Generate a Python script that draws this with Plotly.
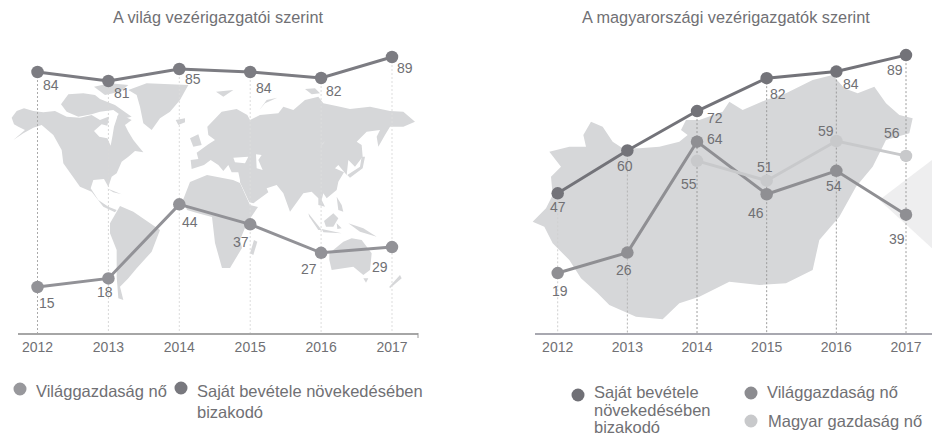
import plotly.graph_objects as go

W, H = 932, 436
FONT = "Liberation Sans"
TEXT = "#707074"

years = [2012, 2013, 2014, 2015, 2016, 2017]
light_years = [2014, 2015, 2016, 2017]

world_own_revenue = [84, 81, 85, 84, 82, 89]
world_economy = [15, 18, 44, 37, 27, 29]
hu_own_revenue = [47, 60, 72, 82, 84, 89]
hu_world_economy = [19, 26, 64, 46, 54, 39]
hu_economy = [55, 51, 59, 56]

title_world = "A világ vezérigazgatói szerint"
title_hu = "A magyarországi vezérigazgatók szerint"

# label offsets from their marker (px, right / down)
off_world_own = [(13, 13), (14, 12), (14, 10), (14, 16), (13, 13), (13, 11)]
off_world_eco = [(9, 16), (-3, 14), (11, 18), (-9, 18), (-12, 16), (-12, 20)]
off_hu_own = [(0, 14), (-2, 15), (18, 7), (11, 16), (15, 12), (-11, 15)]
off_hu_world = [(2, 18), (-3, 17), (18, -3), (-11, 19), (-2, 15), (-9, 24)]
off_hu_eco = [(-8, 23), (-2, -14), (-10, -10), (-14, -23)]

# Decorative background maps, traced as (x, y) in the 932x436 frame
def c1(pts):
    return [(x / 3, 75 + y / 3) for x, y in pts]

def c2(pts):
    return [(190 + x / 3, 85 + y / 3) for x, y in pts]

def c3(pts):
    return [(100 + x / 3, 190 + y / 3) for x, y in pts]

def z2(pts):
    return [(466 + x / 3, 40 + y / 3) for x, y in pts]

world_land = [
    c1([(35,128),(50,108),(72,100),(100,108),(130,112),(165,108),(200,125),(240,128),(275,120),(300,135),(325,125),(345,135),(360,110),(375,125),(395,135),(375,150),(385,170),(400,195),(412,210),(430,232),(405,228),(385,245),(365,260),(350,295),(335,305),(325,335),(312,312),(280,315),(272,340),(295,375),(325,395),(350,405),(345,412),(310,395),(275,350),(240,335),(215,300),(190,265),(185,225),(160,180),(125,150),(100,158),(70,175),(40,195),(75,165),(55,155),(42,148)]),
    c1([(183,88),(205,58),(250,55),(285,60),(300,72),(345,90),(395,125),(375,130),(340,105),(300,110),(275,118),(235,125),(200,110)]),
    c1([(282,35),(330,25),(385,30),(360,50),(315,60)]),
    c1([(385,45),(440,25),(565,30),(540,75),(510,110),(480,130),(455,165),(430,145),(420,95),(410,60)]),
    c1([(527,135),(555,130),(555,142),(535,150)]),
    c1([(320,340),(365,358),(340,352)]),
    c2([(2,225),(25,222),(20,203),(55,178),(75,165),(55,150),(52,125),(95,80),(140,72),(172,90),(180,105),(210,90),(265,85),(280,65),(310,75),(345,45),(385,35),(400,55),(450,65),(480,72),(540,65),(600,78),(640,80),(675,110),(640,125),(600,125),(585,150),(565,185),(560,155),(570,135),(530,140),(500,170),(515,180),(518,215),(495,245),(475,225),(470,270),(445,240),(435,250),(462,262),(445,290),(440,315),(410,340),(400,325),(395,345),(405,365),(385,360),(385,340),(365,320),(340,325),(300,380),(280,325),(260,300),(230,310),(235,322),(190,355),(178,352),(150,292),(150,285),(145,262),(125,262),(115,240),(100,258),(85,240),(62,225),(42,240),(5,252)]),
    c2([(472,270),(510,245),(515,215),(525,215),(518,250),(480,278)]),
    c2([(355,385),(395,435),(385,435),(358,395)]),
    c2([(402,408),(430,385),(445,400),(430,425),(408,425)]),
    c2([(440,335),(455,360),(460,380),(445,375)]),
    c2([(395,432),(455,445),(400,442)]),
    c2([(440,415),(455,430),(442,432)]),
    c2([(0,160),(25,148),(35,180),(10,185)]),
    c2([(78,20),(130,15),(100,35)]),
    c2([(208,75),(230,45),(262,38),(225,55)]),
    c2([(345,12),(375,10),(390,25),(365,28)]),
    [(183,200),(190,182),(207,175),(233,180),(240,183),(250,205),(258,207),(247,223),(240,240),(242,248),(230,268),(222,268),(215,243),(212,217),(197,213),(187,210)],
    c3([(30,100),(60,48),(100,65),(180,120),(155,185),(110,235),(85,265),(60,290),(70,330),(55,325),(50,260),(50,180),(30,130)]),
    c3([(462,150),(472,155),(460,195),(450,190)]),
    c3([(688,190),(730,155),(755,145),(785,150),(815,190),(810,240),(790,255),(760,230),(695,240),(688,210)]),
    c3([(790,265),(805,265),(798,278)]),
    c3([(900,255),(905,265),(870,295),(868,290)]),
    c3([(745,100),(790,115),(830,140),(780,125)]),
]
world_water = [
    c1([(282,168),(305,148),(322,152),(330,112),(352,125),(342,155),(338,180),(332,212),(322,190),(298,185)]),
    c2([(130,218),(175,215),(165,235),(135,232)]),
    c2([(198,208),(215,210),(205,225),(218,255),(200,250)]),
    c2([(390,185),(405,168),(400,175)]),
]
hungary_land = z2([(200,545),(240,505),(260,465),(255,410),(285,380),(250,335),(310,320),(360,320),(352,285),(375,245),(410,260),(440,305),(470,325),(520,325),(580,320),(640,305),(665,285),(645,270),(660,240),(700,240),(770,215),(790,185),(830,210),(900,180),(960,160),(1040,120),(1100,105),(1135,145),(1175,160),(1225,140),(1260,190),(1300,225),(1340,235),(1330,280),(1260,300),(1220,380),(1170,440),(1120,530),(1060,600),(1040,690),(960,730),(880,735),(790,725),(700,770),(640,790),(590,838),(510,830),(430,795),(395,760),(345,715),(310,660),(260,610),(235,560)])
arrow_tip = z2([(1398,360),(1240,480),(1398,625)])


def px(x):
    return x / W

def py(y):
    return 1 - y / H

def poly(pts, fill):
    path = "M" + "L".join(f"{px(x):.5f},{py(y):.5f}" for x, y in pts) + "Z"
    return dict(type="path", xref="paper", yref="paper", path=path,
                fillcolor=fill, line_width=0, layer="below")

TOP_PX, AXIS_PX = 40, 333

def yrange(value_ref, px_ref, scale):
    """value range that puts value_ref at height px_ref with scale px/unit"""
    return [value_ref - (AXIS_PX - px_ref) / scale, value_ref + (px_ref - TOP_PX) / scale]

y_axes = {
    "yaxis": ("x", yrange(84, 72, 3.0), None),
    "yaxis2": ("x", yrange(15, 287, 2.85), "y"),
    "yaxis3": ("x2", yrange(47, 193.3, 3.29), None),
    "yaxis4": ("x2", yrange(41.33, 207.85, 2.92), "y3"),
    "yaxis5": ("x2", yrange(55.25, 159.6, 4.96), "y3"),
}

fig = go.Figure()
annotations, shapes = [], []

shapes += [poly(p, "#d6d7d9") for p in world_land]
shapes += [poly(p, "#ffffff") for p in world_water]
shapes.append(poly(hungary_land, "#d6d7d9"))
shapes.append(poly(arrow_tip, "#eeeeef"))

def drop(xref, yref, xs, vals, colors):
    bottom = y_axes["yaxis" + yref[1:]][1][0]
    for x, v, c in zip(xs, vals, colors):
        shapes.append(dict(type="line", xref=xref, yref=yref, x0=x, x1=x, y0=v, y1=bottom,
                           line=dict(color=c, width=1, dash="2px,2px"), layer="below"))

drop("x", "y", years, world_own_revenue, ["#aaaaaa", "#d8d8d8", "#dddddd", "#dddddd", "#dddddd", "#dddddd"])
drop("x2", "y3", years, hu_own_revenue, ["#d0d0d0", "#b4b4b4", "#9c9c9c", "#9c9c9c", "#9c9c9c", "#9c9c9c"])

def series(xs, vals, xa, ya, color, offs):
    fig.add_trace(go.Scatter(x=xs, y=vals, xaxis=xa, yaxis=ya, mode="lines+markers",
                             line=dict(color=color, width=3),
                             marker=dict(color=color, size=12.5),
                             cliponaxis=False, showlegend=False, hoverinfo="skip"))
    for x, v, (dx, dy) in zip(xs, vals, offs):
        annotations.append(dict(x=x, y=v, xref=xa, yref=ya, text=str(v), showarrow=False,
                                xshift=dx, yshift=-dy, xanchor="center", yanchor="middle",
                                font=dict(family=FONT, size=14, color=TEXT)))

series(years, world_own_revenue, "x", "y", "#7c7c82", off_world_own)
series(years, world_economy, "x", "y2", "#929297", off_world_eco)
series(light_years, hu_economy, "x2", "y5", "#c8c9cb", off_hu_eco)
series(years, hu_world_economy, "x2", "y4", "#8f8f93", off_hu_world)
series(years, hu_own_revenue, "x2", "y3", "#737379", off_hu_own)

def note(x, y, text, size=16.5, anchor="left"):
    annotations.append(dict(x=px(x), y=py(y), xref="paper", yref="paper", text=text, showarrow=False,
                            xanchor=anchor, yanchor="middle", align="left",
                            font=dict(family=FONT, size=size, color=TEXT)))

def dot(x, y, color, r=6.5):
    shapes.append(dict(type="circle", xref="paper", yref="paper",
                       x0=px(x - r), x1=px(x + r), y0=py(y + r), y1=py(y - r),
                       fillcolor=color, line_width=0))

note(218, 17, title_world, 16.3, "center")
note(726, 17, title_hu, 16.3, "center")

dot(20, 389, "#98989c")
note(34, 391, "Világgazdaság nő")
dot(181, 388, "#78787e")
note(195, 391, "Saját bevétele növekedésében")
note(195, 412, "bizakodó")

dot(578, 395, "#707076")
note(592, 392, "Saját bevétele")
note(592, 410, "növekedésében")
note(592, 427, "bizakodó")
dot(751, 393, "#8c8c90")
note(765, 392, "Világgazdaság nő")
dot(751, 421, "#c8c9cb")
note(766, 421, "Magyar gazdaság nő")

shapes.append(dict(type="line", xref="paper", yref="paper", x0=px(418), x1=px(418),
                   y0=py(333), y1=py(338), line=dict(color="#999999", width=1)))

def xaxis(domain, rng, line_color, line_width, anchor):
    return dict(domain=domain, range=rng, tickmode="array", tickvals=years,
                ticktext=[str(y) for y in years], showgrid=False, zeroline=False,
                showline=True, linecolor=line_color, linewidth=line_width, ticks="",
                tickfont=dict(family=FONT, size=14, color=TEXT), anchor=anchor, fixedrange=True)

layout = dict(
    width=W, height=H, autosize=False,
    margin=dict(l=0, r=0, t=0, b=0, pad=0),
    paper_bgcolor="#ffffff", plot_bgcolor="rgba(0,0,0,0)",
    xaxis=xaxis([18 / W, 418 / W], [2012 - 19.5 / 70.9, 2012 + 380.5 / 70.9], "#a6a6a6", 2, "y"),
    xaxis2=xaxis([535 / W, 1], [2012 - 22.7 / 69.66, 2012 + 374.3 / 69.66], "#a8a8b0", 1.5, "y3"),
    shapes=shapes, annotations=annotations, showlegend=False,
)
for name, (xa, rng, over) in y_axes.items():
    ax = dict(domain=[py(AXIS_PX), py(TOP_PX)], range=rng, visible=False, anchor=xa, fixedrange=True)
    if over:
        ax["overlaying"] = over
    layout[name] = ax
fig.update_layout(**layout)

fig.write_html("out.html", config=dict(displayModeBar=False),
               post_script="document.body.style.margin='0';document.body.style.overflow='hidden';")
